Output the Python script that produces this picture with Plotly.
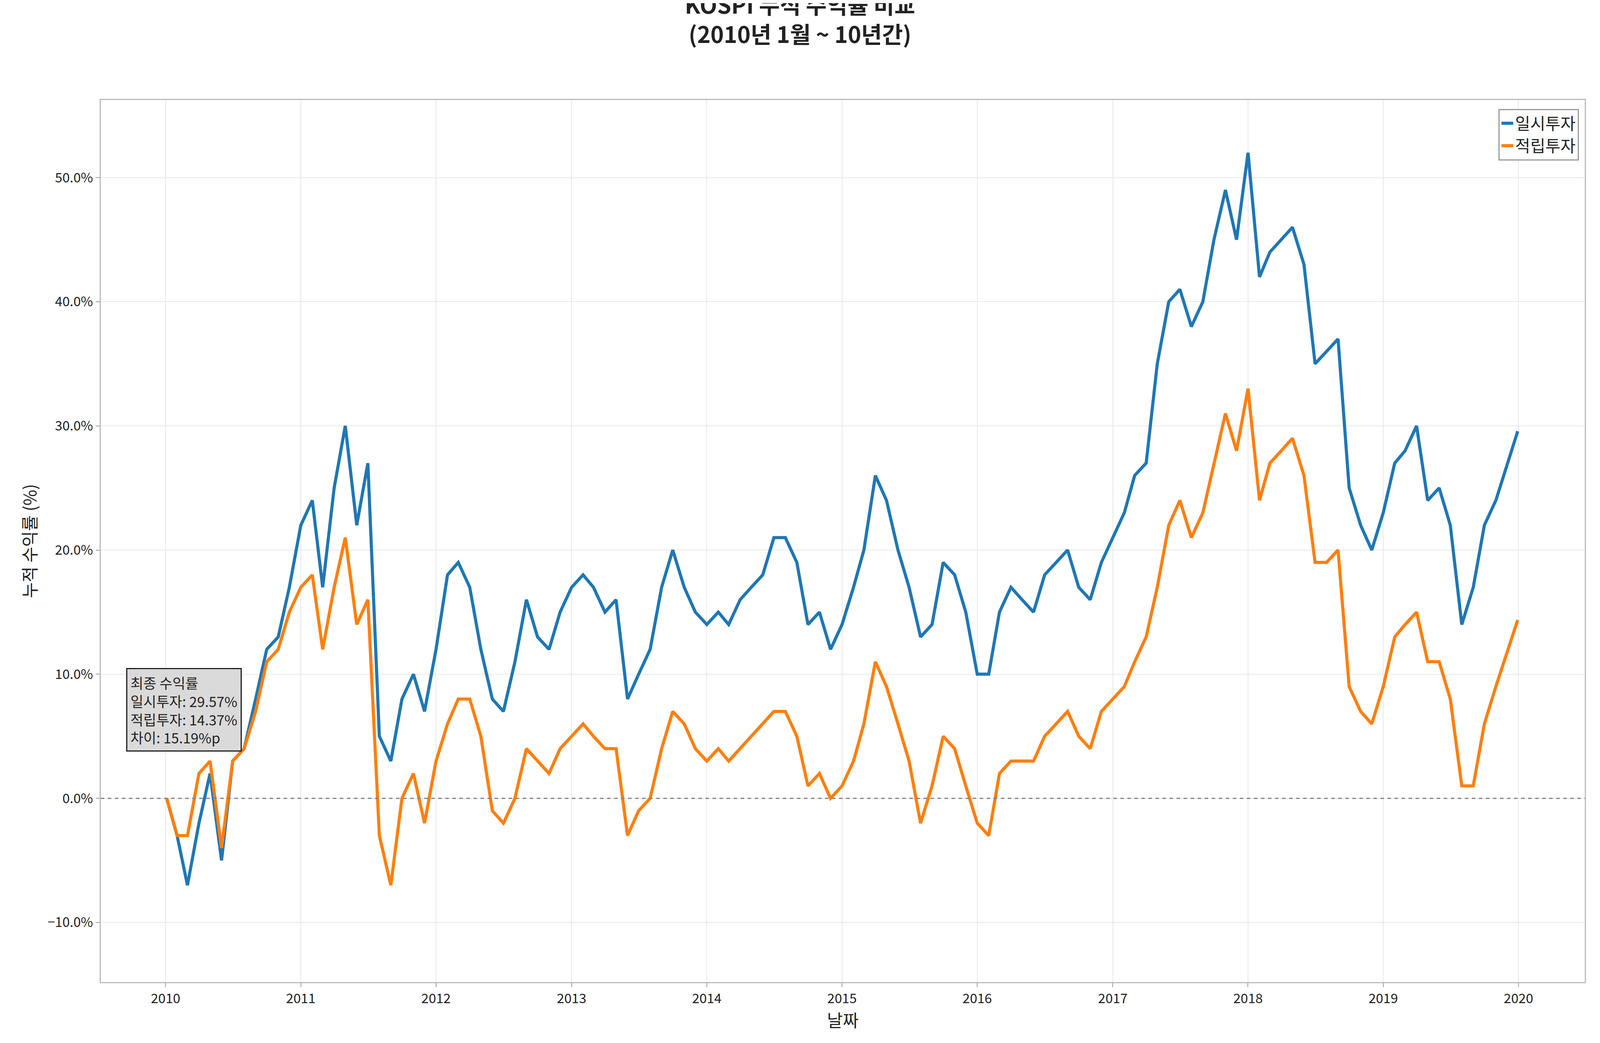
import pandas as pd
import plotly.graph_objects as go

# monthly readings (%), Jan 2010 .. Dec 2019
lump_sum = [
    0, -3, -7, -2, 2, -5, 3, 4, 8, 12, 13, 17,
    22, 24, 17, 25, 30, 22, 27, 5, 3, 8, 10, 7,
    12, 18, 19, 17, 12, 8, 7, 11, 16, 13, 12, 15,
    17, 18, 17, 15, 16, 8, 10, 12, 17, 20, 17, 15,
    14, 15, 14, 16, 17, 18, 21, 21, 19, 14, 15, 12,
    14, 17, 20, 26, 24, 20, 17, 13, 14, 19, 18, 15,
    10, 10, 15, 17, 16, 15, 18, 19, 20, 17, 16, 19,
    21, 23, 26, 27, 35, 40, 41, 38, 40, 45, 49, 45,
    52, 42, 44, 45, 46, 43, 35, 36, 37, 25, 22, 20,
    23, 27, 28, 30, 24, 25, 22, 14, 17, 22, 24, 29.57,
]
dca = [
    0, -3, -3, 2, 3, -4, 3, 4, 7, 11, 12, 15,
    17, 18, 12, 17, 21, 14, 16, -3, -7, 0, 2, -2,
    3, 6, 8, 8, 5, -1, -2, 0, 4, 3, 2, 4,
    5, 6, 5, 4, 4, -3, -1, 0, 4, 7, 6, 4,
    3, 4, 3, 4, 5, 6, 7, 7, 5, 1, 2, 0,
    1, 3, 6, 11, 9, 6, 3, -2, 1, 5, 4, 1,
    -2, -3, 2, 3, 3, 3, 5, 6, 7, 5, 4, 7,
    8, 9, 11, 13, 17, 22, 24, 21, 23, 27, 31, 28,
    33, 24, 27, 28, 29, 26, 19, 19, 20, 9, 7, 6,
    9, 13, 14, 15, 11, 11, 8, 1, 1, 6, 9, 14.37,
]
dates = [pd.Timestamp("2010-01-04")] + list(pd.date_range("2010-02-01", periods=118, freq="MS")) + [pd.Timestamp("2019-12-30")]

FONT = "Noto Sans CJK KR"
fig = go.Figure()
fig.add_trace(go.Scatter(x=dates, y=lump_sum, mode="lines", name="일시투자",
                         line=dict(color="#1f77b4", width=8)))
fig.add_trace(go.Scatter(x=dates, y=dca, mode="lines", name="적립투자",
                         line=dict(color="#ff7f0e", width=8)))
fig.add_hline(y=0, line=dict(color="gray", width=3, dash="dash"))

fig.add_annotation(
    xref="paper", yref="paper", x=0.017, y=0.356, xanchor="left", yanchor="top",
    align="left", showarrow=False,
    text="최종 수익률<br>일시투자: 29.57%<br>적립투자: 14.37%<br>차이: 15.19%p",
    font=dict(family=FONT, size=36, color="#222"),
    bgcolor="rgba(211,211,211,0.85)", bordercolor="#222", borderwidth=3, borderpad=8,
)

fig.update_layout(
    autosize=True,
    paper_bgcolor="white", plot_bgcolor="white",
    margin=dict(l=250, r=31, t=248, b=148),
    font=dict(family=FONT, size=34, color="#222"),
    title=dict(text="<b>KOSPI 누적 수익률 비교<br>(2010년 1월 ~ 10년간)</b>",
               x=0.5, xanchor="center", y=0.99, yanchor="top",
               font=dict(family=FONT, size=58, color="#222")),
    legend=dict(x=0.996, y=0.99, xanchor="right", yanchor="top",
                bgcolor="white", bordercolor="#999", borderwidth=3,
                font=dict(size=42)),
    xaxis=dict(title=dict(text="날짜", font=dict(size=44)),
               range=["2009-07-10", "2020-06-28"], dtick="M12", tickformat="%Y",
               showgrid=True, gridcolor="#e8e8e8", gridwidth=2,
               showline=True, linecolor="#bbb", linewidth=3, mirror=True,
               ticks="outside", ticklen=10, tickcolor="#444"),
    yaxis=dict(title=dict(text="누적 수익률 (%)", font=dict(size=44)),
               range=[-14.8, 56.25], dtick=10, tickformat=".1f", ticksuffix="%",
               showgrid=True, gridcolor="#e8e8e8", gridwidth=2, zeroline=False,
               showline=True, linecolor="#bbb", linewidth=3, mirror=True,
               ticks="outside", ticklen=10, tickcolor="#444"),
)
fig.write_html("out.html")
